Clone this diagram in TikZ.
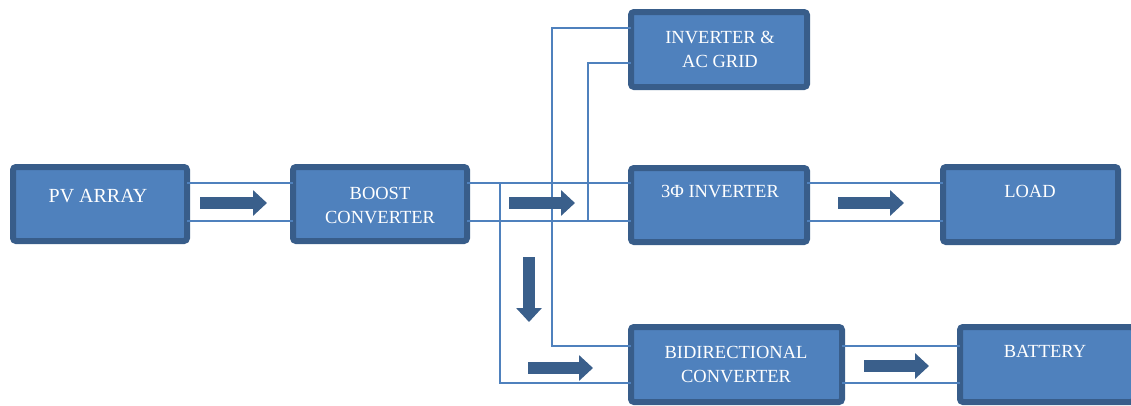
\documentclass[tikz,border=0pt]{standalone}
\usepackage{fontspec}
\setmainfont{Liberation Serif}
\usetikzlibrary{arrows.meta,calc}
\definecolor{boxfill}{HTML}{4F81BD}
\definecolor{boxedge}{HTML}{385D8A}
\definecolor{wirec}{HTML}{4F81BD}
\definecolor{arrowc}{HTML}{3A5F8B}
\tikzset{
  blk/.style={draw=boxedge, fill=boxfill, line width=6pt, rounded corners=3pt, inner sep=0pt, outer sep=0pt},
  lbl/.style={text=white, font=\fontsize{18.5}{23}\selectfont, inner sep=0pt, anchor=base},
  wire/.style={draw=wirec, line width=2pt},
  bigarrow/.style={draw=arrowc, line width=12pt, -{Triangle[length=14pt,width=25pt]}}
}
\begin{document}
\begin{tikzpicture}[x=1pt,y=-1pt]
\useasboundingbox (0,0) rectangle (1131,405);
\clip (0,0) rectangle (1131,405);
% boxes (outer size minus line width)
\node[blk, minimum width=174pt, minimum height=74pt] (pv) at (100,204) {};
\node[blk, minimum width=174pt, minimum height=74pt] (boost) at (380,204) {};
\node[blk, minimum width=176pt, minimum height=75pt] (grid) at (719,49.5) {};
\node[blk, minimum width=176pt, minimum height=74pt] (inv) at (719,205) {};
\node[blk, minimum width=175pt, minimum height=75pt] (load) at (1030.5,204.5) {};
\node[blk, minimum width=211pt, minimum height=75pt] (bidir) at (736.5,364.5) {};
\node[blk, minimum width=174pt, minimum height=75pt] (bat) at (1047,364.5) {};
% labels
\node[lbl] (pvT) at (98,202) {\fontsize{20}{23}\selectfont PV ARRAY};
\node[lbl] (boostT1) at (380,199) {BOOST};
\node[lbl] (boostT2) at (380,223) {CONVERTER};
\node[lbl] (gridT1) at (720,43) {INVERTER \&};
\node[lbl] (gridT2) at (720,67) {AC GRID};
\node[lbl] (invT) at (720,197) {3Φ INVERTER};
\node[lbl] (loadT) at (1030,197) {LOAD};
\node[lbl] (bidirT1) at (736,358) {BIDIRECTIONAL};
\node[lbl] (bidirT2) at (736,382) {CONVERTER};
\node[lbl] (batT) at (1045,357) {BATTERY};
% wire levels
\coordinate (yA) at (0,183);
\coordinate (yB) at (0,221);
\coordinate (yC) at (0,346);
\coordinate (yD) at (0,383);
\coordinate (yE) at (0,28);
\coordinate (yF) at (0,63);
\coordinate (x1) at (500,0);
\coordinate (x2) at (552,0);
\coordinate (x3) at (588,0);
% wires
\draw[wire] (pv.east|-yA) -- (boost.west|-yA);
\draw[wire] (pv.east|-yB) -- (boost.west|-yB);
\draw[wire] (boost.east|-yA) -- (inv.west|-yA);
\draw[wire] (boost.east|-yB) -- (inv.west|-yB);
\draw[wire] (x1|-yA) |- (bidir.west|-yD);
\draw[wire] (grid.west|-yE) -| (x2|-yC) -- (bidir.west|-yC);
\draw[wire] (grid.west|-yF) -| (x3|-yB);
\draw[wire] (inv.east|-yA) -- (load.west|-yA);
\draw[wire] (inv.east|-yB) -- (load.west|-yB);
\draw[wire] (bidir.east|-yC) -- (bat.west|-yC);
\draw[wire] (bidir.east|-yD) -- (bat.west|-yD);
% block arrows
\coordinate (a1s) at (200,203); \coordinate (a1e) at (267,203);
\coordinate (a2s) at (509,203); \coordinate (a2e) at (575,203);
\coordinate (a3s) at (838,203); \coordinate (a3e) at (904,203);
\coordinate (a4s) at (529,257); \coordinate (a4e) at (529,322);
\coordinate (a5s) at (528,368); \coordinate (a5e) at (593,368);
\coordinate (a6s) at (864,366); \coordinate (a6e) at (929,366);
\draw[bigarrow] (a1s) -- (a1e);
\draw[bigarrow] (a2s) -- (a2e);
\draw[bigarrow] (a3s) -- (a3e);
\draw[bigarrow] (a4s) -- (a4e);
\draw[bigarrow] (a5s) -- (a5e);
\draw[bigarrow] (a6s) -- (a6e);
\end{tikzpicture}
\end{document}
